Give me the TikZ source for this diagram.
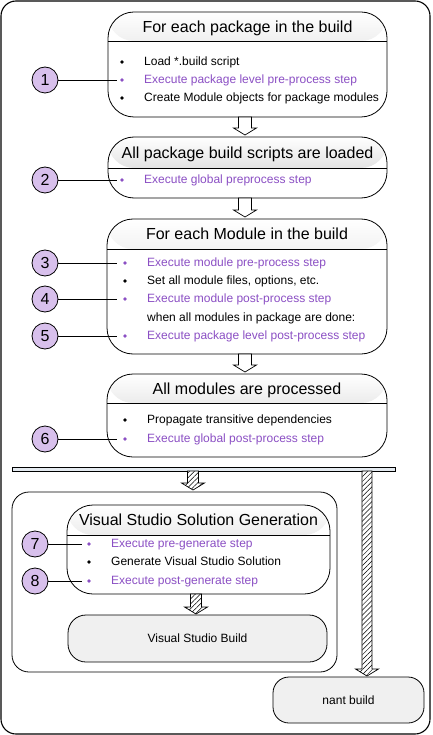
\documentclass[tikz,border=0pt]{standalone}
\usepackage{fontspec}
\setmainfont{Liberation Sans}
\usetikzlibrary{calc,patterns.meta}
\definecolor{purp}{HTML}{8B4FC4}
\definecolor{lav}{HTML}{D8C0EC}
\definecolor{lgray}{HTML}{F0F0F0}
\definecolor{barfill}{HTML}{E4EAF0}
\newcommand\blockarrow[4]{%
  \path[#1] let \p1=(#2), \p2=(#3) in
    (\x1-#4,\y1) -- (\x1+#4,\y1) -- (\x1+#4,\y2+7pt) -- (\x1+11.5pt,\y2+7pt)
    -- (\x1,\y2) -- (\x1-11.5pt,\y2+7pt) -- (\x1-#4,\y2+7pt) -- cycle;}
\tikzset{
  box/.style={draw, line width=0.8pt, fill=white, rounded corners=26pt, inner sep=0pt, outer sep=0pt},
  hdr/.style={path picture={
     \shade[top color=white, bottom color=black!22]
       (path picture bounding box.north west) rectangle ([yshift=-#1]path picture bounding box.north east);
     \draw[line width=0.8pt] ([yshift=-#1]path picture bounding box.north west)
       -- ([yshift=-#1]path picture bounding box.north east);}},
  title/.style={font=\fontsize{16}{19}\selectfont, inner sep=0pt, text height=11.5pt, text depth=0pt},
  item/.style={anchor=west, inner sep=0pt, text height=8.6pt, text depth=1.2pt},
  pitem/.style={item, text=purp},
  num/.style={circle, draw, line width=0.8pt, fill=lav, minimum size=26pt, inner sep=0pt,
     font=\fontsize{16}{19}\selectfont},
  link/.style={line width=0.8pt},
  plainarr/.style={draw, line width=0.7pt, fill=white},
  hatcharr/.style={draw, line width=0.7pt, fill=white,
     postaction={pattern={Lines[angle=45,distance=3.5pt,line width=0.5pt]}}},
  softbox/.style={draw, line width=0.8pt, fill=lgray, inner sep=0pt, outer sep=0pt}
}
\begin{document}
\begin{tikzpicture}[x=1pt, y=-1pt, font=\fontsize{12}{14}\selectfont]
\useasboundingbox (0,0) rectangle (432,735);
% frames
\node[draw, line width=1.1pt, rounded corners=15pt, minimum width=429pt, minimum height=733pt, inner sep=0pt] (frame) at (215.5,367.5) {};
\node[draw, line width=0.8pt, rounded corners=17pt, minimum width=325pt, minimum height=180pt, inner sep=0pt, outer sep=0pt] (inner) at (174.5,582) {};
\node[draw, line width=0.8pt, fill=barfill, minimum width=383pt, minimum height=4pt, inner sep=0pt, outer sep=0pt] (bar) at (203.5,469) {};
% boxes
\node[box, hdr=29pt, minimum width=279pt, minimum height=105pt] (b1) at (247.5,64.5) {};
\node[box, hdr=31pt, minimum width=279pt, minimum height=61pt] (b2) at (247.5,167.5) {};
\node[box, hdr=30pt, minimum width=280pt, minimum height=135pt] (b3) at (247,286.5) {};
\node[box, hdr=29pt, minimum width=280pt, minimum height=83pt] (b4) at (247,415.5) {};
\node[box, hdr=30pt, minimum width=263pt, minimum height=89pt] (vs) at (198.5,549.5) {};
\node[softbox, rounded corners=18pt, minimum width=259pt, minimum height=47pt] (vsb) at (197.5,638.5) {Visual Studio Build};
\node[softbox, rounded corners=16pt, minimum width=151pt, minimum height=46pt] (nant) at (348.5,700) {nant build};
% titles
\node[title] (t1) at (247.5,26.5) {For each package in the build};
\node[title] (t2) at (247.5,152.5) {All package build scripts are loaded};
\node[title] (t3) at (247,234) {For each Module in the build};
\node[title] (t4) at (247,388.5) {All modules are processed};
\node[title] (t5) at (198.5,520) {Visual Studio Solution Generation};
% box 1 rows
\fill (122,62) circle (1.8pt);
\node[item] (r11) at (144,62) {Load *.build script};
\fill[purp] (122,80) circle (1.8pt);
\node[pitem] (r12) at (144,80) {Execute package level pre-process step};
\fill (122,98) circle (1.8pt);
\node[item] (r13) at (144,98) {Create Module objects for package modules};
% box 2 rows
\fill[purp] (122,180) circle (1.8pt);
\node[pitem] (r21) at (144,180) {Execute global preprocess step};
% box 3 rows
\fill[purp] (125,263) circle (1.8pt);
\node[pitem] (r31) at (147,263) {Execute module pre-process step};
\fill (125,281) circle (1.8pt);
\node[item] (r32) at (147,281) {Set all module files, options, etc.};
\fill[purp] (125,299) circle (1.8pt);
\node[pitem] (r33) at (147,299) {Execute module post-process step};
\node[item] (r34) at (147,318) {when all modules in package are done:};
\fill[purp] (125,336) circle (1.8pt);
\node[pitem] (r35) at (147,336) {Execute package level post-process step};
% box 4 rows
\fill (125,420) circle (1.8pt);
\node[item] (r41) at (147,420) {Propagate transitive dependencies};
\fill[purp] (125,439) circle (1.8pt);
\node[pitem] (r42) at (147,439) {Execute global post-process step};
% VS rows
\fill[purp] (89,544) circle (1.8pt);
\node[pitem] (r51) at (111,544) {Execute pre-generate step};
\fill (89,562) circle (1.8pt);
\node[item] (r52) at (111,562) {Generate Visual Studio Solution};
\fill[purp] (89,581) circle (1.8pt);
\node[pitem] (r53) at (111,581) {Execute post-generate step};
% numbered circles
\node[num] (c1) at (45,80) {1};
\node[num] (c2) at (45,180) {2};
\node[num] (c3) at (45,263) {3};
\node[num] (c4) at (45,299) {4};
\node[num] (c5) at (45,336) {5};
\node[num] (c6) at (45,439) {6};
\node[num] (c7) at (35,544) {7};
\node[num] (c8) at (35,581) {8};
\coordinate (e1) at (117,80);
\coordinate (e2) at (117,180);
\coordinate (e3) at (117,263);
\coordinate (e4) at (117,299);
\coordinate (e5) at (117,336);
\coordinate (e6) at (117,439);
\coordinate (e7) at (82,544);
\coordinate (e8) at (82,581);
\foreach \i in {1,...,8} {\draw[link] (c\i) -- (e\i);}
% block arrows
\blockarrow{plainarr}{[xshift=-2.5pt]b1.south}{[yshift=2pt]b2.north}{6.5pt}
\blockarrow{plainarr}{[xshift=-2.5pt]b2.south}{[yshift=2pt]b3.north}{6.5pt}
\blockarrow{plainarr}{[xshift=-2pt]b3.south}{[yshift=2pt]b4.north}{6.5pt}
\blockarrow{hatcharr}{[xshift=-10.5pt]bar.south}{[yshift=2pt]inner.north}{5.5pt}
\blockarrow{hatcharr}{[xshift=-2.5pt]vs.south}{[yshift=1pt]vsb.north}{5.5pt}
\blockarrow{hatcharr}{[xshift=163.5pt]bar.south}{[yshift=1pt]nant.north}{5pt}
\end{tikzpicture}
\end{document}
